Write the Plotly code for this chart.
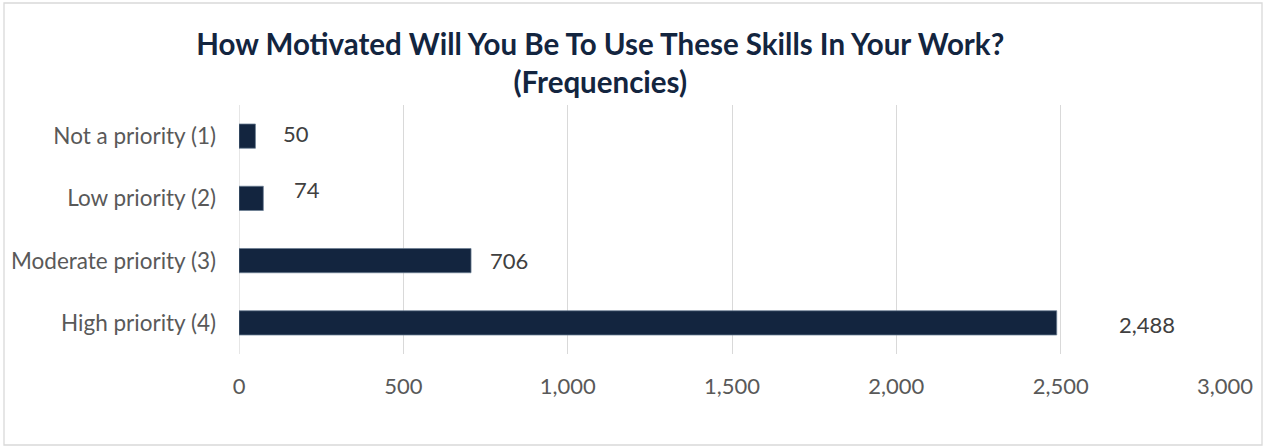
import plotly.graph_objects as go

# Survey responses: motivation to use the skills at work
categories = ["Not a priority (1)", "Low priority (2)", "Moderate priority (3)", "High priority (4)"]
counts = [50, 74, 706, 2488]
tick_values = [0, 500, 1000, 1500, 2000, 2500, 3000]

# Data-label nudges (px) so labels sit as placed in the report
label_dx = [26, 29, 17, 60]
label_dy = [3, 9, 0, -2]

BAR = "#13253f"
TEXT = "#595959"
GRID = "#d9d9d9"
FONT = "Lato"

fig = go.Figure(
    go.Bar(
        x=counts,
        y=categories,
        orientation="h",
        width=0.39,
        marker=dict(color=BAR, line=dict(color="#6a7d93", width=0.75)),
        hoverinfo="x+y",
    )
)

for c, v, dx, dy in zip(categories, counts, label_dx, label_dy):
    fig.add_annotation(
        x=v, y=c, text=f"{v:,}", showarrow=False,
        xanchor="left", yanchor="middle", xshift=dx, yshift=dy,
        font=dict(family=FONT, size=22, color="#404040"),
    )

fig.update_layout(
    width=1265, height=447,
    margin=dict(l=239, r=40, t=105, b=93),
    paper_bgcolor="white", plot_bgcolor="white",
    showlegend=False,
    title=dict(
        text="<b>How Motivated Will You Be To Use These Skills In Your Work?<br>(Frequencies)</b>",
        x=0.4745, xanchor="center", y=0.877, yanchor="middle",
        font=dict(family=FONT, size=29.5, color="#13253f"),
    ),
    xaxis=dict(
        range=[0, 3000], tickvals=tick_values, tickformat=",d",
        showgrid=True, gridcolor=GRID, gridwidth=1.3,
        zeroline=False, showline=False, ticks="",
        ticklabelstandoff=17,
        tickfont=dict(family=FONT, size=22, color=TEXT),
    ),
    yaxis=dict(
        autorange="reversed", showgrid=False, showline=False, ticks="",
        ticklabelstandoff=22,
        tickfont=dict(family=FONT, size=22.5, color=TEXT),
    ),
    shapes=[
        dict(type="rect", xref="paper", yref="paper",
             x0=-235/986, x1=1.0 + 37/986, y0=-91/249, y1=1.0 + 102/249,
             line=dict(color="#d9d9d9", width=1.3), fillcolor="rgba(0,0,0,0)", layer="below"),
        dict(type="line", xref="x", yref="paper", x0=0, x1=0, y0=0, y1=1,
             line=dict(color=GRID, width=1.3), layer="below"),
    ],
)

fig.write_html("out.html")
